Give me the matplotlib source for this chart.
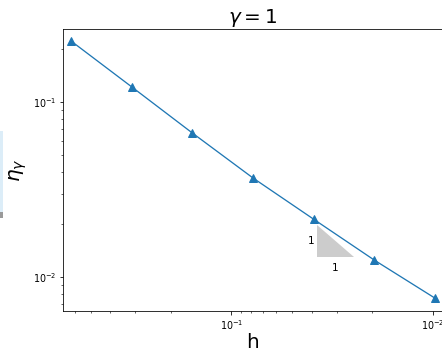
import matplotlib
matplotlib.use("Agg")
import matplotlib.pyplot as plt
from matplotlib.patches import Rectangle

# mesh sizes and error indicator values
h = [0.625, 0.3125, 0.15625, 0.078125, 0.0390625, 0.01953125, 0.009765625]
eta = [0.223, 0.122, 0.0665, 0.0368, 0.0214, 0.0125, 0.00758]

# slope triangle (corner, width factor, slope)
tri_h0 = 0.0375
tri_eta0 = 0.0130
tri_fac = 1.52
tri_slope = 1

fig = plt.figure(figsize=(442 / 72, 349 / 72), dpi=72)
ax = fig.add_axes([0.1425, 0.1089, 0.8597, 0.808])

ax.loglog(h, eta, '-^', color='C0', lw=1.3, ms=8)

# slope triangle
h1 = tri_h0 / tri_fac
e1 = tri_eta0 * tri_fac**tri_slope
ax.fill([tri_h0, tri_h0, h1], [e1, tri_eta0, tri_eta0], color='0.8', lw=0)
ax.text(tri_h0 * 1.03, (e1 * tri_eta0) ** 0.5, '1', ha='right', va='center', fontsize=10.5)
ax.text((tri_h0 * h1) ** 0.5, tri_eta0 * 0.93, '1', ha='center', va='top', fontsize=10.5)

ax.set_xlim(0.685, 0.00891)
ax.set_ylim(0.0064, 0.261)
ax.tick_params(labelsize=9.5)
ax.set_title(r'$\gamma = 1$', fontsize=20, pad=5)
ax.set_xlabel('h', fontsize=20, labelpad=1)
ax.set_ylabel(r'$\eta_\gamma$', fontsize=20, labelpad=4)

# bit of a neighbouring panel at the left edge
fig.patches.append(Rectangle((0, 131 / 349), 3 / 442, 87 / 349, transform=fig.transFigure,
                             facecolor='#dcedf8', edgecolor='none'))
fig.patches.append(Rectangle((0, 131 / 349), 3 / 442, 6 / 349, transform=fig.transFigure,
                             facecolor='#9a9a9a', edgecolor='none'))

fig.savefig('out.png', dpi=72)
